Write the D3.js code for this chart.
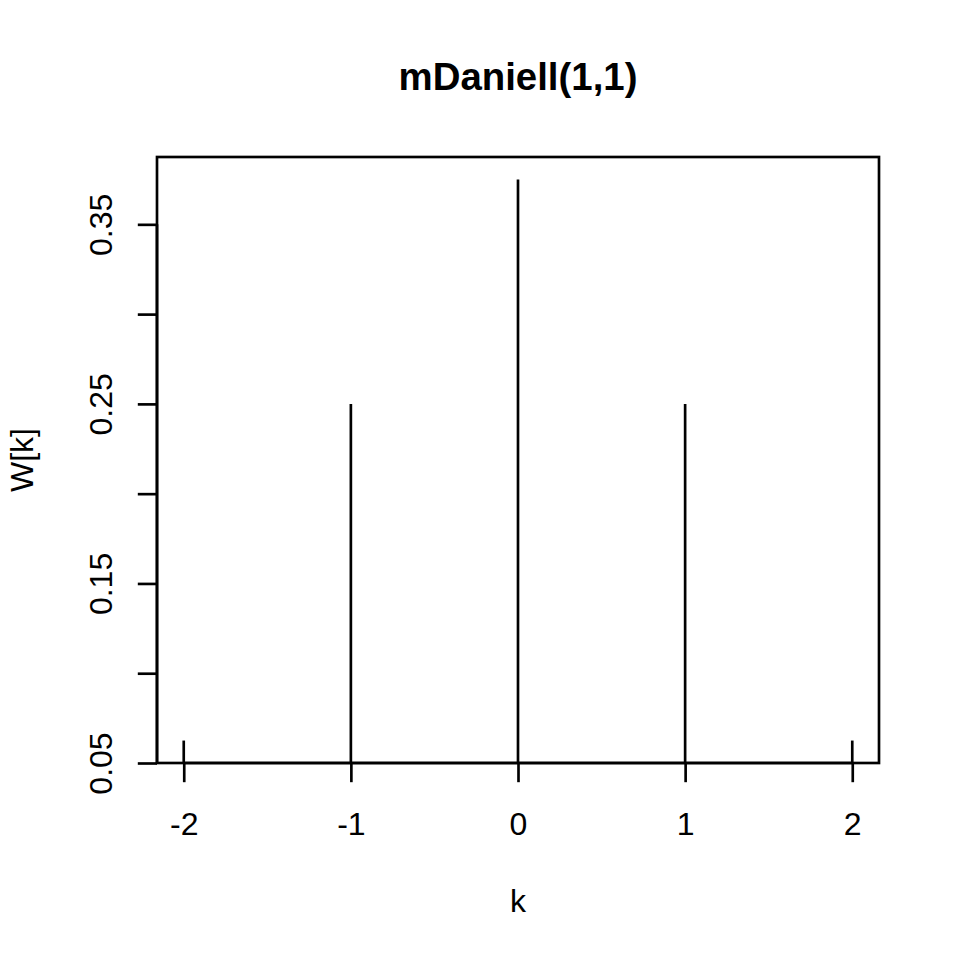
<!DOCTYPE html>
<html>
<head>
<meta charset="utf-8">
<script src="https://cdn.jsdelivr.net/npm/d3@7"></script>
<style>
  body { margin: 0; background: #fff; }
  svg { font-family: "Liberation Sans", Arial, sans-serif; }
</style>
</head>
<body>
<svg width="960" height="960"></svg>
<script>
// data
var kVals = [-2, -1, 0, 1, 2],
    wVals = [0.0625, 0.25, 0.375, 0.25, 0.0625];

var yTicks = [0.05, 0.10, 0.15, 0.20, 0.25, 0.30, 0.35],
    yTickLabels = ['0.05', '', '0.15', '', '0.25', '', '0.35'];

var title = 'mDaniell(1,1)';

// layout (R default margins, line = 38.4px)
var margin = {top: 157, right: 81, bottom: 197, left: 157},
    width  = 960 - margin.left - margin.right,
    height = 960 - margin.top  - margin.bottom;

var lw = 2.67;

var svg = d3.select('svg');
var g = svg.append('g').attr('transform', 'translate(' + margin.left + ',' + margin.top + ')');

// R style 4% extension of the range
var xr = d3.extent(kVals), yr = d3.extent(wVals);
var xpad = (xr[1] - xr[0]) * 0.04, ypad = (yr[1] - yr[0]) * 0.04;

var x = d3.scaleLinear().domain([xr[0] - xpad, xr[1] + xpad]).range([0, width]);
var y = d3.scaleLinear().domain([yr[0] - ypad, yr[1] + ypad]).range([height, 0]);

// vertical lines (type = "h")
g.selectAll('.spike')
    .data(kVals)
    .enter()
    .append('line')
    .attr('class', 'spike')
    .attr('x1', d => x(d))
    .attr('x2', d => x(d))
    .attr('y1', y(y.domain()[0]))
    .attr('y2', (d, i) => y(wVals[i]))
    .attr('stroke', '#000')
    .attr('stroke-width', lw);

// x axis
var xAxis = g.append('g')
    .attr('transform', 'translate(0,' + height + ')')
    .call(d3.axisBottom(x).tickValues(kVals).tickFormat(d3.format('d'))
        .tickSizeInner(19.2).tickSizeOuter(0).tickPadding(30));
xAxis.select('.domain').attr('d', 'M' + x(kVals[0]) + ',0H' + x(kVals[kVals.length - 1]))
    .attr('stroke-width', lw);
xAxis.selectAll('line').attr('stroke-width', lw);
xAxis.selectAll('text').attr('font-size', 32).attr('fill', '#000')
    .attr('font-family', '"Liberation Sans", Arial, sans-serif')
    .text(d => d < 0 ? '-' + Math.abs(d) : d);

// y axis
var yAxis = g.append('g')
    .call(d3.axisLeft(y).tickValues(yTicks).tickFormat((d, i) => yTickLabels[i])
        .tickSizeInner(19.2).tickSizeOuter(0));
yAxis.select('.domain').attr('d', 'M0,' + y(yTicks[0]) + 'V' + y(yTicks[yTicks.length - 1]))
    .attr('stroke-width', lw);
yAxis.selectAll('line').attr('stroke-width', lw);
yAxis.selectAll('text')
    .attr('font-size', 32).attr('fill', '#000')
    .attr('font-family', '"Liberation Sans", Arial, sans-serif')
    .attr('text-anchor', 'middle')
    .attr('x', 0).attr('y', -45).attr('dy', 0)
    .attr('transform', 'rotate(-90)');

// box
g.append('rect')
    .attr('width', width)
    .attr('height', height)
    .attr('fill', 'none')
    .attr('stroke', '#000')
    .attr('stroke-width', lw);

// titles
svg.append('text')
    .attr('x', margin.left + width / 2)
    .attr('y', 90)
    .attr('text-anchor', 'middle')
    .attr('font-size', 38.4)
    .attr('font-weight', 'bold')
    .text(title);

svg.append('text')
    .attr('x', margin.left + width / 2)
    .attr('y', 912)
    .attr('text-anchor', 'middle')
    .attr('font-size', 32)
    .text('k');

svg.append('text')
    .attr('transform', 'translate(33,' + (margin.top + height / 2) + ') rotate(-90)')
    .attr('text-anchor', 'middle')
    .attr('font-size', 32)
    .text('W[k]');
</script>
</body>
</html>
